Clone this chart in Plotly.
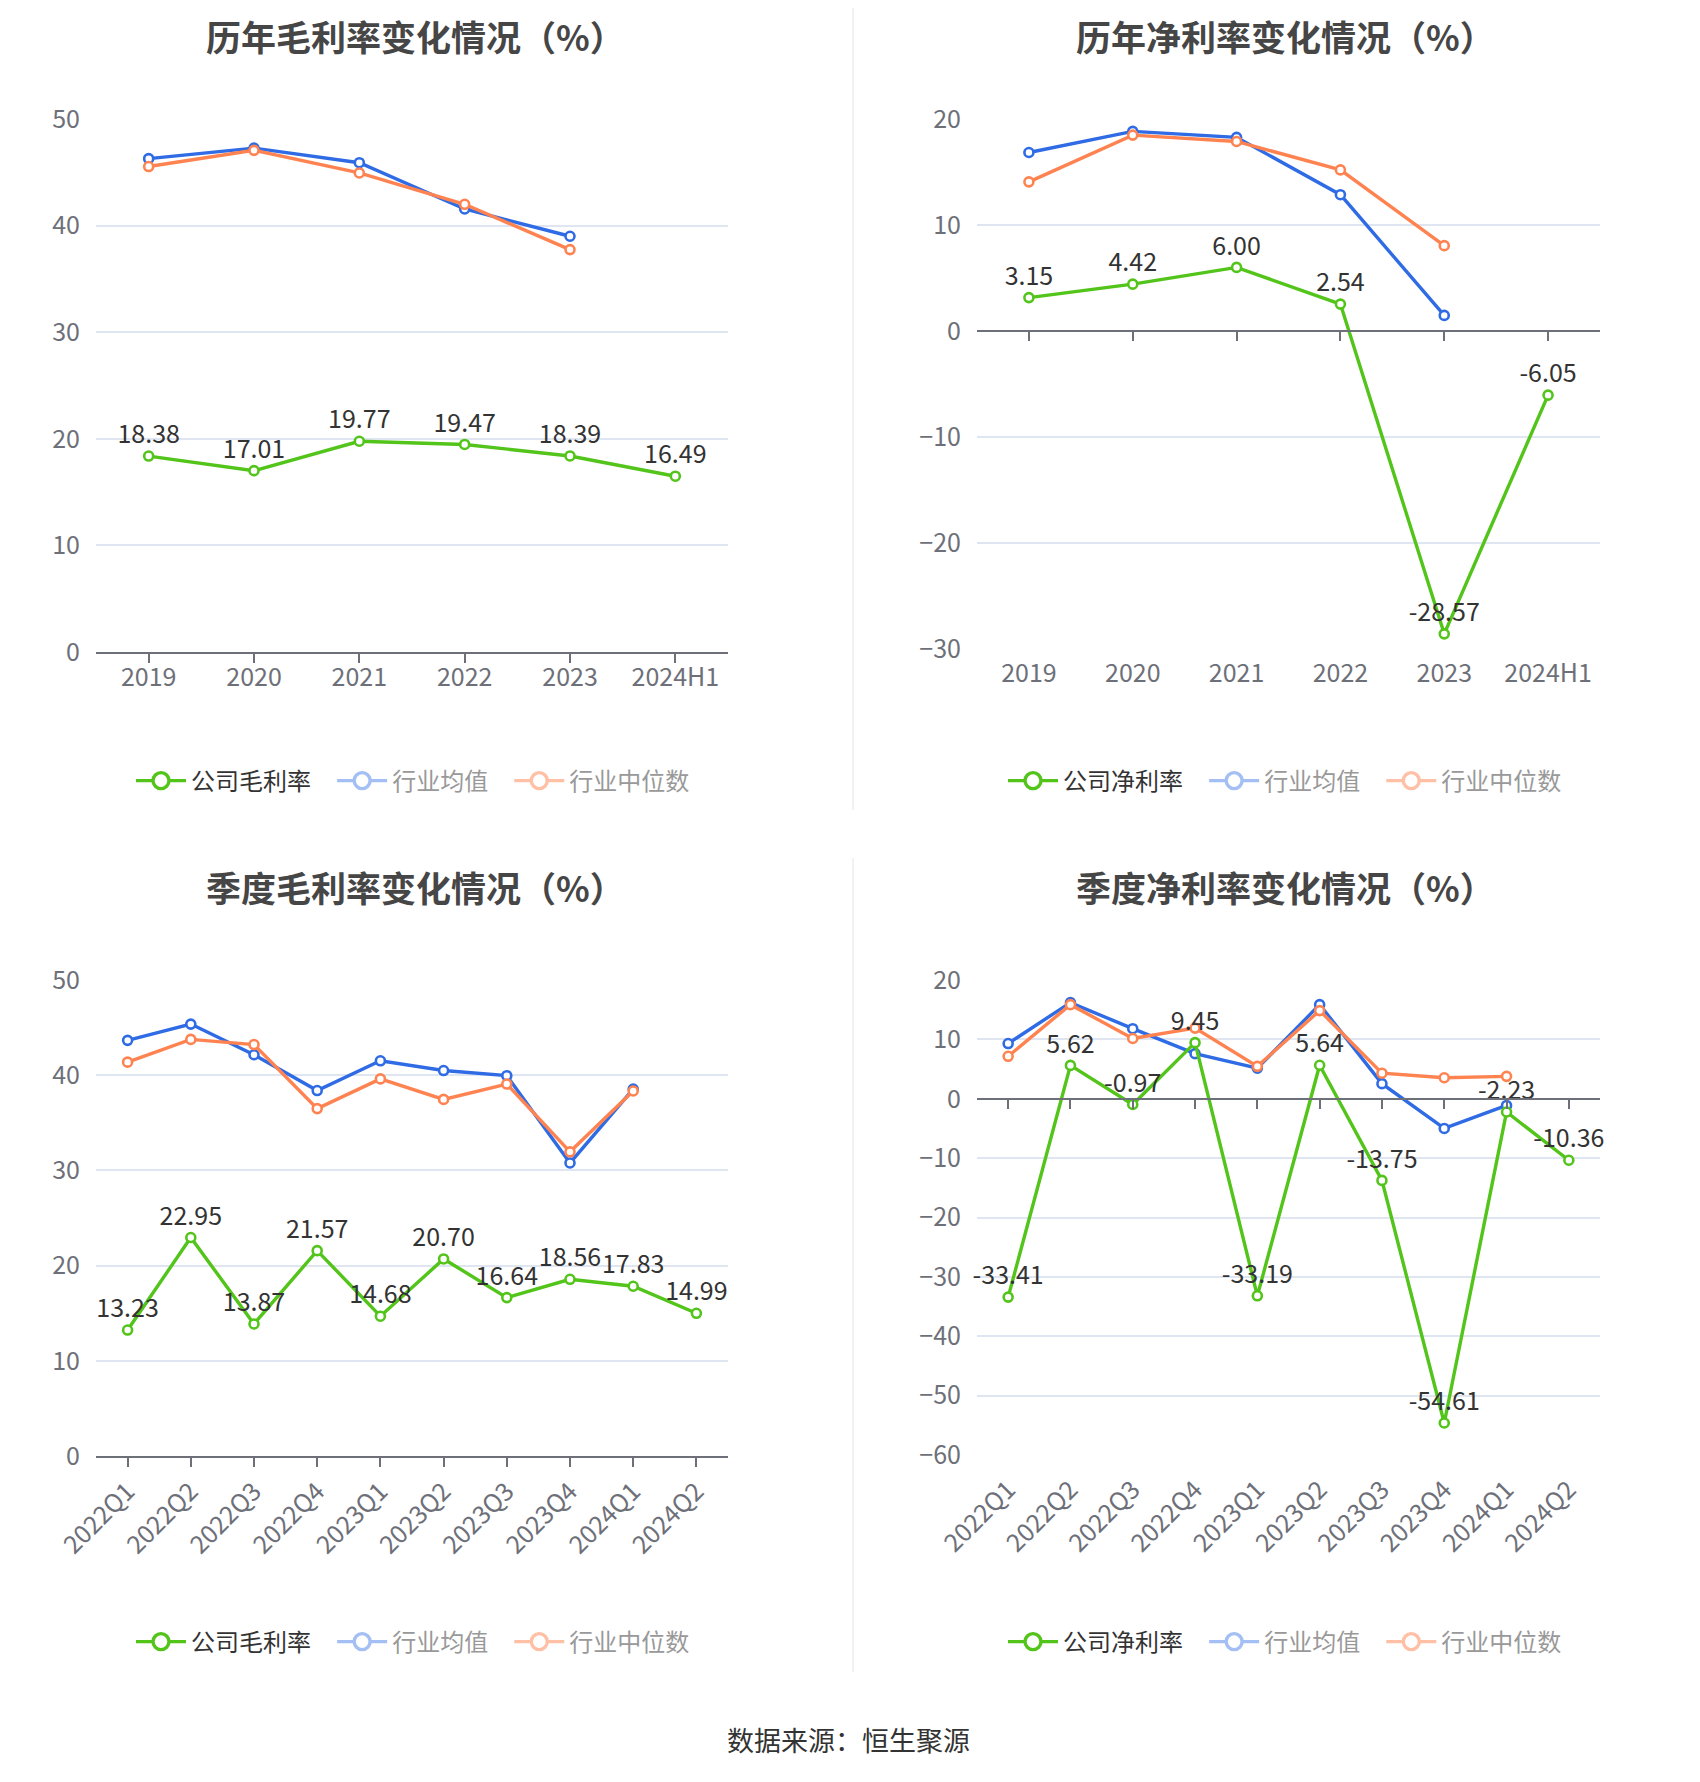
import plotly.graph_objects as go

# the page body adds an 8px margin on every side, so the figure is drawn smaller
PAGE_W, PAGE_H, OFF = 1700, 1782, 8
W, H = PAGE_W - 2 * OFF, PAGE_H - 2 * OFF
FONT = "Noto Sans CJK SC"

years = ["2019", "2020", "2021", "2022", "2023", "2024H1"]
quarters = ["2022Q1", "2022Q2", "2022Q3", "2022Q4", "2023Q1",
            "2023Q2", "2023Q3", "2023Q4", "2024Q1", "2024Q2"]

# 历年毛利率
gross_company = [18.38, 17.01, 19.77, 19.47, 18.39, 16.49]
gross_mean = [46.28, 47.27, 45.90, 41.56, 39.00, None]
gross_median = [45.54, 47.06, 44.94, 42.00, 37.75, None]

# 历年净利率
net_company = [3.15, 4.42, 6.00, 2.54, -28.57, -6.05]
net_mean = [16.84, 18.83, 18.27, 12.86, 1.47, None]
net_median = [14.07, 18.48, 17.88, 15.20, 8.05, None]

# 季度毛利率
q_gross_company = [13.23, 22.95, 13.87, 21.57, 14.68, 20.70, 16.64, 18.56, 17.83, 14.99]
q_gross_mean = [43.66, 45.37, 42.15, 38.39, 41.51, 40.49, 39.95, 30.78, 38.54, None]
q_gross_median = [41.37, 43.76, 43.22, 36.49, 39.61, 37.46, 39.07, 31.95, 38.34, None]

# 季度净利率
q_net_company = [-33.41, 5.62, -0.97, 9.45, -33.19, 5.64, -13.75, -54.61, -2.23, -10.36]
q_net_mean = [9.30, 16.20, 11.80, 7.60, 5.15, 15.85, 2.54, -5.00, -1.13, None]
q_net_median = [7.15, 15.85, 10.15, 11.90, 5.46, 14.85, 4.30, 3.54, 3.77, None]

GREEN, BLUE, ORANGE = "#52c41a", "#2f6be4", "#ff8351"
BLUE_FADE, ORANGE_FADE = "#a3bff3", "#ffc0a6"
AXIS, GRID, TXT = "#6e7079", "#e0e6f1", "#333333"
SP = "\u00a0\u00a0\u00a0"


def px(x):
    return (x - OFF) / W


def py(y):
    return 1 - (y - OFF) / H


def xdom(left, right):
    return [px(left), px(right)]


def ydom(top, bottom):
    return [py(bottom), py(top)]


panels = [
    dict(title="历年毛利率变化情况（%）", cats=years, label="公司毛利率",
         company=gross_company, mean=gross_mean, median=gross_median,
         yrange=[0, 50], xd=xdom(96, 728), yd=ydom(119, 652),
         tx=415, ty=None, lx=413, ly=781, rot=0),
    dict(title="历年净利率变化情况（%）", cats=years, label="公司净利率",
         company=net_company, mean=net_mean, median=net_median,
         yrange=[-30, 20], xd=xdom(977, 1600), yd=ydom(119, 649),
         tx=1285, ty=None, lx=1285, ly=781, rot=0),
    dict(title="季度毛利率变化情况（%）", cats=quarters, label="公司毛利率",
         company=q_gross_company, mean=q_gross_mean, median=q_gross_median,
         yrange=[0, 50], xd=xdom(96, 728), yd=ydom(980, 1456),
         tx=415, ty=886, lx=413, ly=1642, rot=-45),
    dict(title="季度净利率变化情况（%）", cats=quarters, label="公司净利率",
         company=q_net_company, mean=q_net_mean, median=q_net_median,
         yrange=[-60, 20], xd=xdom(977, 1600), yd=ydom(980, 1455),
         tx=1285, ty=886, lx=1285, ly=1642, rot=-45),
]

fig = go.Figure()
annotations = []
layout = {}

for i, p in enumerate(panels, start=1):
    sfx = "" if i == 1 else str(i)
    xa, ya = "x" + sfx, "y" + sfx
    leg = "legend" + sfx
    n = len(p["cats"])
    neg = p["yrange"][0] < 0

    # legend entries (styled like the reference, active / faded)
    for name, col in [(p["label"] + SP, GREEN),
                      ("<span style='color:#999999'>行业均值" + SP + "</span>", BLUE_FADE),
                      ("<span style='color:#999999'>行业中位数</span>", ORANGE_FADE)]:
        fig.add_trace(go.Scatter(
            x=[None], y=[None], xaxis=xa, yaxis=ya, name=name, legend=leg,
            mode="lines+markers", line=dict(color=col, width=3.4),
            marker=dict(size=22, color="white", line=dict(color=col, width=3.4)),
        ))

    for vals, col in [(p["mean"], BLUE), (p["median"], ORANGE)]:
        fig.add_trace(go.Scatter(
            x=p["cats"], y=vals, xaxis=xa, yaxis=ya, showlegend=False,
            mode="lines+markers", line=dict(color=col, width=3.4),
            marker=dict(size=9, color="white", line=dict(color=col, width=2.6)),
        ))
    fig.add_trace(go.Scatter(
        x=p["cats"], y=p["company"], xaxis=xa, yaxis=ya, showlegend=False,
        mode="lines+markers+text", texttemplate="%{y:.2f}",
        textposition="top center", textfont=dict(size=25, color=TXT, family=FONT),
        line=dict(color=GREEN, width=3.4),
        marker=dict(size=9, color="white", line=dict(color=GREEN, width=2.6)),
        cliponaxis=False,
    ))

    layout["xaxis" + sfx] = dict(
        domain=p["xd"], anchor=ya, type="category", range=[-0.5, n - 0.5],
        showgrid=False, zeroline=False, automargin=False,
        showline=not neg, linecolor=AXIS, linewidth=1.5,
        ticks="outside", ticklen=9, tickwidth=1.5,
        tickcolor="rgba(0,0,0,0)" if neg else AXIS,
        ticklabelstandoff=-7 if p["rot"] == 0 else 0,
        tickangle=p["rot"], tickfont=dict(size=25, color=AXIS, family=FONT),
    )
    layout["yaxis" + sfx] = dict(
        domain=p["yd"], anchor=xa, range=p["yrange"], dtick=10,
        showgrid=True, gridcolor=GRID, gridwidth=1.5, zeroline=False,
        showline=False, ticks="", ticklabelstandoff=15, automargin=False,
        tickfont=dict(size=25, color=AXIS, family=FONT),
    )

    if neg:
        # axis line with ticks sitting on y = 0
        ox = "x" + str(i + 4)
        y0, y1 = p["yd"]
        lo, hi = p["yrange"]
        pos = y0 + (0 - lo) / (hi - lo) * (y1 - y0)
        layout["xaxis" + str(i + 4)] = dict(
            overlaying=xa, anchor="free", position=pos, domain=p["xd"],
            range=[-0.5, n - 0.5], tickvals=list(range(n)), showticklabels=False,
            showgrid=False, zeroline=False, showline=True, linecolor=AXIS,
            linewidth=1.5, ticks="outside", ticklen=9, tickcolor=AXIS, tickwidth=1.5,
            automargin=False,
        )
        fig.add_trace(go.Scatter(
            x=list(range(n)), y=[0] * n, xaxis=ox, yaxis=ya, mode="markers",
            marker=dict(opacity=0), showlegend=False, hoverinfo="skip",
        ))

    layout[leg] = dict(
        x=px(p["lx"]), y=py(p["ly"]), xanchor="center", yanchor="middle",
        orientation="h", font=dict(size=24, color=TXT, family=FONT),
        itemwidth=50, bgcolor="rgba(0,0,0,0)", itemclick=False,
    )

    title = dict(
        text="<b>" + p["title"] + "</b>", x=px(p["tx"]),
        xref="paper", yref="paper", showarrow=False, xanchor="center",
        font=dict(size=35, color="#464646", family=FONT),
    )
    if p["ty"] is None:
        title.update(y=1, yanchor="top")
    else:
        title.update(y=py(p["ty"]), yanchor="middle")
    annotations.append(title)

annotations.append(dict(
    text="数据来源：恒生聚源", x=px(848), y=py(1739), xref="paper", yref="paper",
    showarrow=False, xanchor="center", yanchor="middle",
    font=dict(size=27, color=TXT, family=FONT),
))

shapes = [
    dict(type="line", xref="paper", yref="paper", x0=px(853), x1=px(853),
         y0=1, y1=py(810), line=dict(color="#eeeeee", width=1.5)),
    dict(type="line", xref="paper", yref="paper", x0=px(853), x1=px(853),
         y0=py(858), y1=py(1672), line=dict(color="#eeeeee", width=1.5)),
]

fig.update_layout(
    width=W, height=H, margin=dict(l=0, r=0, t=0, b=0, autoexpand=False),
    paper_bgcolor="white", plot_bgcolor="white",
    font=dict(family=FONT, color=TXT),
    annotations=annotations, shapes=shapes, hovermode=False,
    **layout,
)

fig.write_html("out.html")
